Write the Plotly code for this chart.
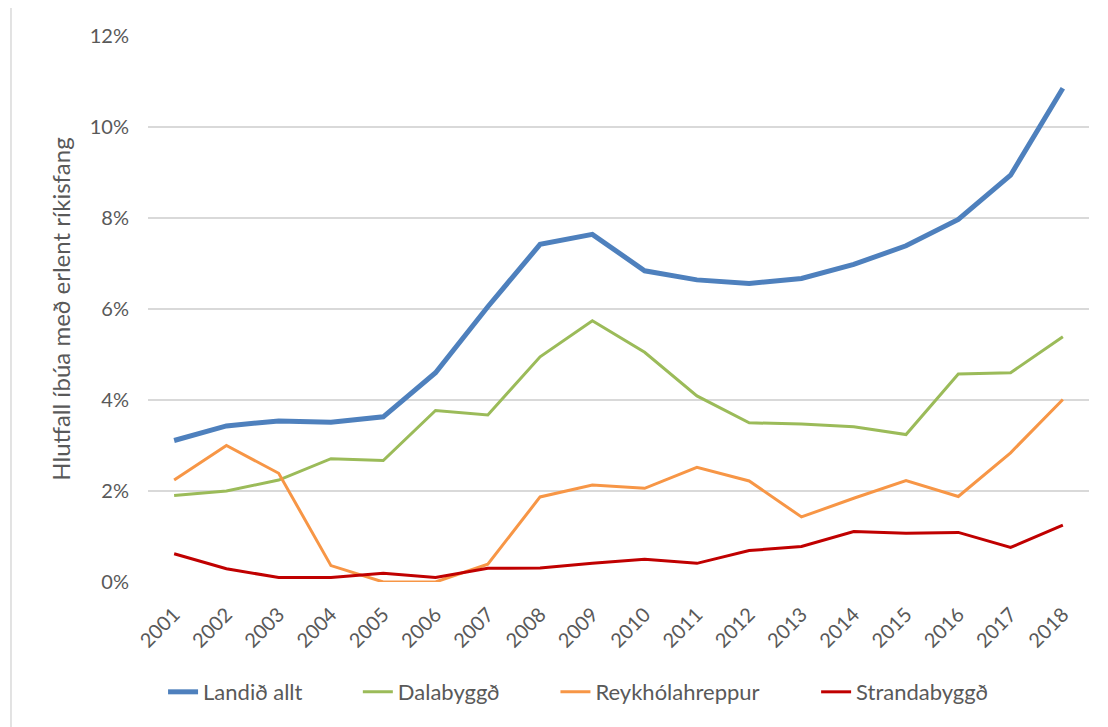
import plotly.graph_objects as go

years = [str(y) for y in range(2001, 2019)]
landid_allt = [3.11, 3.43, 3.54, 3.51, 3.63, 4.60, 6.05, 7.42, 7.64, 6.84, 6.64, 6.56, 6.67, 6.98, 7.39, 7.97, 8.94, 10.85]
dalabyggd = [1.90, 2.00, 2.24, 2.71, 2.67, 3.77, 3.67, 4.95, 5.74, 5.05, 4.09, 3.50, 3.47, 3.41, 3.24, 4.57, 4.60, 5.39]
reykholahreppur = [2.24, 3.00, 2.39, 0.36, 0.00, 0.00, 0.39, 1.87, 2.13, 2.06, 2.52, 2.22, 1.43, 1.84, 2.23, 1.88, 2.84, 4.01]
strandabyggd = [0.62, 0.29, 0.10, 0.10, 0.19, 0.10, 0.30, 0.31, 0.41, 0.50, 0.41, 0.69, 0.78, 1.11, 1.07, 1.09, 0.76, 1.25]
y_ticks = [0, 2, 4, 6, 8, 10, 12]
y_tick_labels = ["0%", "2%", "4%", "6%", "8%", "10%", "12%"]

series = [
    ("Landið allt", landid_allt, "#4E80BD", 5, "legend", 0.016),
    ("Dalabyggð", dalabyggd, "#9BBB59", 3, "legend2", 0.223),
    ("Reykhólahreppur", reykholahreppur, "#F79646", 3, "legend3", 0.433),
    ("Strandabyggð", strandabyggd, "#C00000", 3, "legend4", 0.710),
]

FONT = "Lato, 'Open Sans', sans-serif"
fig = go.Figure()
for name, vals, color, width, leg, _ in series:
    fig.add_trace(go.Scatter(x=years, y=vals, name=name, mode="lines",
                             line=dict(color=color, width=width), legend=leg))

legend_common = dict(orientation="h", yanchor="middle", xanchor="left", y=-0.2015,
                     font=dict(family=FONT, size=22, color="#595959"),
                     bgcolor="rgba(0,0,0,0)", itemwidth=30)
layout_legends = {}
for name, vals, color, width, leg, lx in series:
    layout_legends[leg] = dict(legend_common, x=lx)

fig.update_layout(
    width=1100, height=719,
    margin=dict(l=140, r=19, t=28, b=145),
    paper_bgcolor="white", plot_bgcolor="white",
    font=dict(family=FONT, size=19, color="#595959"),
    showlegend=True,
    **layout_legends,
    xaxis=dict(type="category", tickangle=-45, showgrid=False, zeroline=False,
               showline=False, ticks="", ticklabelstandoff=16,
               tickfont=dict(size=20, color="#595959"),
               range=[-0.5, len(years) - 0.5]),
    yaxis=dict(range=[0, 12], tickvals=y_ticks, ticktext=y_tick_labels,
               showgrid=True, gridcolor="#D9D9D9", gridwidth=1.5, zeroline=False,
               showline=False, ticks="", ticklabelstandoff=18,
               tickfont=dict(size=20, color="#595959"),
               title=dict(text="Hlutfall íbúa með erlent ríkisfang", standoff=12,
                          font=dict(size=24, color="#595959"))),
    shapes=[dict(type="rect", xref="paper", yref="paper", x0=-0.1456, x1=1.2,
                 y0=-0.5, y1=1.0531, line=dict(color="#D9D9D9", width=1.5),
                 fillcolor="rgba(0,0,0,0)", layer="below")],
)

fig.write_html("out.html")
